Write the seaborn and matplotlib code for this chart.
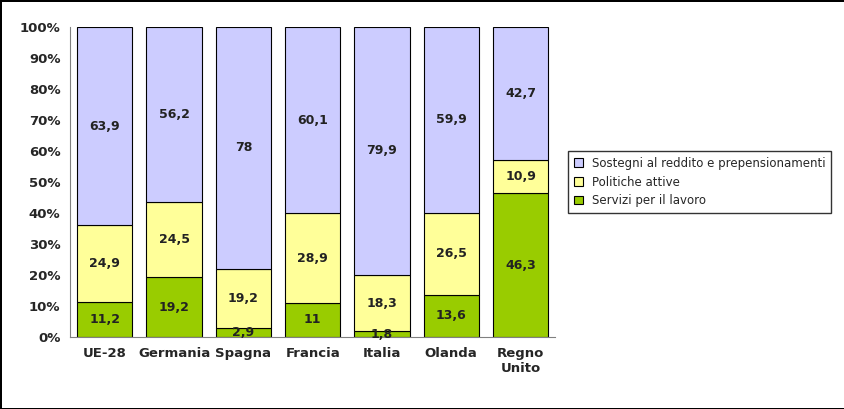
import matplotlib
matplotlib.use("Agg")
import matplotlib.pyplot as plt
import seaborn as sns
import pandas as pd
import numpy as np
from matplotlib.ticker import PercentFormatter

sns.set_style("white")
plt.rcParams['font.family'] = ['DejaVu Sans']

categories = ["UE-28", "Germania", "Spagna", "Francia", "Italia", "Olanda", "Regno\nUnito"]
servizi = [11.2, 19.2, 2.9, 11, 1.8, 13.6, 46.3]
politiche = [24.9, 24.5, 19.2, 28.9, 18.3, 26.5, 10.9]
sostegni = [63.9, 56.2, 78, 60.1, 79.9, 59.9, 42.7]
series_names = ["Servizi per il lavoro", "Politiche attive", "Sostegni al reddito e prepensionamenti"]
colors = ["#99CC00", "#FFFF99", "#CCCCFF"]

fig = plt.figure(figsize=(8.45, 4.09), dpi=100)
fig.patch.set_edgecolor("black")
fig.patch.set_linewidth(2)
ax = fig.add_axes([0.083, 0.176, 0.574, 0.758])

df = pd.DataFrame({"cat": categories, series_names[0]: servizi,
                   series_names[1]: politiche, series_names[2]: sostegni})
bottom = np.zeros(len(categories))
for name, col in zip(series_names, colors):
    vals = df[name].values
    sns.barplot(x=df["cat"], y=vals, bottom=bottom, color=col, edgecolor="black",
                linewidth=0.8, width=0.8, ax=ax, label=name, saturation=1)
    for i, v in enumerate(vals):
        txt = ("%g" % v).replace(".", ",")
        ax.text(i, bottom[i] + v / 2, txt, ha="center", va="center",
                fontsize=9, fontweight="bold", color="#222222")
    bottom = bottom + vals

ax.set_ylim(0, 100)
ax.set_xlim(-0.5, len(categories) - 0.5)
ax.set_yticks(range(0, 101, 10))
ax.yaxis.set_major_formatter(PercentFormatter(decimals=0))
ax.set_xlabel("")
ax.set_ylabel("")
ax.tick_params(labelsize=9.5)
for lab in ax.get_xticklabels() + ax.get_yticklabels():
    lab.set_fontweight("bold")
for s in ax.spines.values():
    s.set_color("#808080")
ax.spines["top"].set_visible(False)
ax.spines["right"].set_visible(False)

h, l = ax.get_legend_handles_labels()
ax.legend(h[::-1], l[::-1], loc="center left", bbox_to_anchor=(1.015, 0.5),
          frameon=True, edgecolor="black", fancybox=False, fontsize=8.5,
          handlelength=0.7, handleheight=0.7, borderpad=0.5, labelspacing=0.5)
fig.savefig("out.png", dpi=100, edgecolor=fig.get_edgecolor())
